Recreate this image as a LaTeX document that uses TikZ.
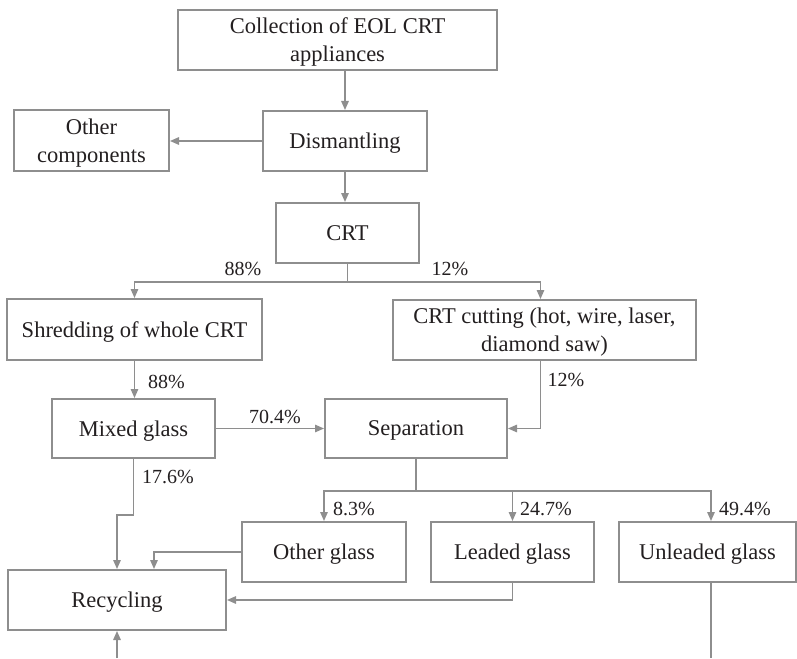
\documentclass[tikz,border=0pt]{standalone}
\usepackage{fontspec}
\setmainfont{Liberation Serif}
\usetikzlibrary{arrows.meta}
\definecolor{lc}{HTML}{8E8E8E}
\definecolor{tc}{HTML}{231F20}
\begin{document}
\begin{tikzpicture}[x=1pt,y=-1pt,
  box/.style={draw=lc, line width=2pt, inner sep=0pt, align=center, text=tc, text depth=0pt, font=\fontsize{22.5}{28}\selectfont},
  conn/.style={draw=lc, line width=1.4pt},
  arr/.style={conn, -{Triangle[length=9pt,width=7.5pt]}},
  pct/.style={text=tc, font=\fontsize{20}{24}\selectfont, inner sep=0pt}]
\useasboundingbox (0,0) rectangle (797,658);
% boxes
\node[box, minimum width=319pt, minimum height=60pt] (coll) at (337.5,40) {Collection of EOL CRT\\appliances};
\node[box, minimum width=164pt, minimum height=60pt] (dism) at (345,141) {Dismantling};
\node[box, minimum width=155pt, minimum height=61pt] (other) at (91.5,140.5) {Other\\components};
\node[box, minimum width=143pt, minimum height=60pt] (crt) at (347.5,233) {CRT};
\node[box, minimum width=255pt, minimum height=61pt] (shred) at (134.5,329.5) {Shredding of whole CRT};
\node[box, minimum width=303pt, minimum height=60pt] (cut) at (544.5,330) {CRT cutting (hot, wire, laser,\\diamond saw)};
\node[box, minimum width=163pt, minimum height=59pt] (mixed) at (133.5,428.5) {Mixed glass};
\node[box, minimum width=182pt, minimum height=59pt] (sep) at (416,428.5) {Separation};
\node[box, minimum width=164pt, minimum height=60pt] (otherg) at (324,552) {Other glass};
\node[box, minimum width=163pt, minimum height=60pt] (leaded) at (512.5,552) {Leaded glass};
\node[box, minimum width=177pt, minimum height=60pt] (unleaded) at (707.5,552) {Unleaded glass};
\node[box, minimum width=218pt, minimum height=60pt] (recyc) at (117,600) {Recycling};
% junctions and free ends
\path (crt.south) ++(0,18) coordinate (j1);
\path (sep.south) ++(0,32) coordinate (j2);
\coordinate (bin) at (117,658);
\coordinate (uout) at (711,658);
% connectors
\draw[arr] (coll.south -| dism.north) -- (dism.north);
\draw[arr] (dism.west) -- (other.east |- dism.west);
\draw[arr] (dism.south) -- (dism.south |- crt.north);
\draw[conn] (crt.south) -- (j1);
\draw[arr] (j1) -| (shred.north);
\draw[arr] (j1) -| ([xshift=-4pt]cut.north);
\draw[arr] (shred.south) -- (shred.south |- mixed.north);
\draw[arr] (mixed.east) -- (sep.west);
\draw[arr] ([xshift=-4pt]cut.south) |- (sep.east);
\draw[conn] (sep.south) -- (j2);
\draw[arr] (j2) -| (otherg.north);
\draw[arr] (j2) -| (leaded.north);
\draw[arr] (j2) -| ([xshift=3.5pt]unleaded.north);
\draw[arr] (mixed.south) -- ++(0,56) -| (recyc.north);
\draw[arr] (otherg.west) -| ([xshift=37pt]recyc.north);
\draw[arr] (leaded.south) |- (recyc.east);
\draw[arr] (bin) -- (recyc.south);
\draw[conn] ([xshift=3.5pt]unleaded.south) -- (uout);
% labels
\node[pct] (l1) at (243,269) {88\%};
\node[pct] (l2) at (450,269) {12\%};
\node[pct, anchor=west] (l3) at (148,382) {88\%};
\node[pct] (l4) at (275,417) {70.4\%};
\node[pct] (l5) at (566,380) {12\%};
\node[pct, anchor=west] (l6) at (142,477) {17.6\%};
\node[pct, anchor=west] (l7) at (333,509) {8.3\%};
\node[pct, anchor=west] (l8) at (520,509) {24.7\%};
\node[pct, anchor=west] (l9) at (719,509) {49.4\%};
\end{tikzpicture}
\end{document}
